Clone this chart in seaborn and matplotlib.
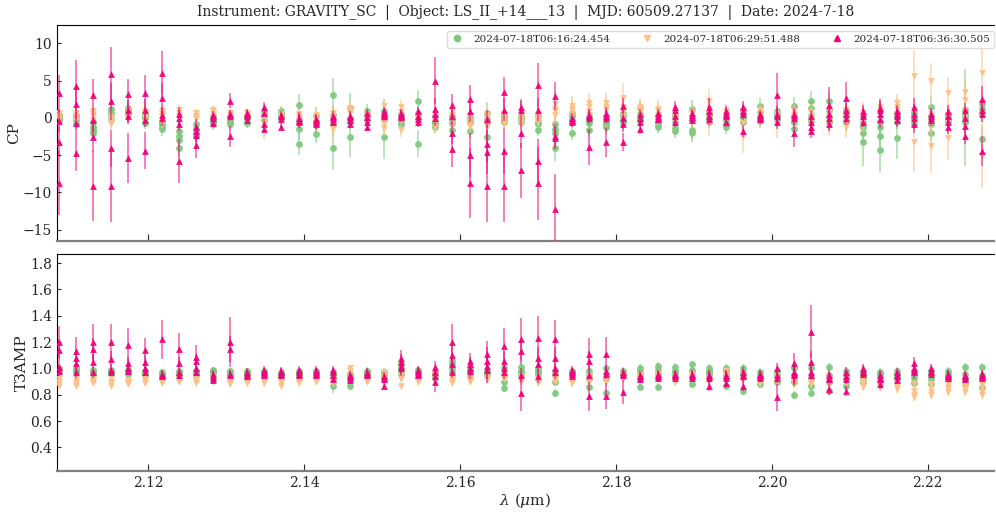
import numpy as np
import pandas as pd
import matplotlib
matplotlib.use("Agg")
import matplotlib.pyplot as plt
from matplotlib.lines import Line2D
import seaborn as sns

# ---------------- data ----------------
wavelength = [2.10859, 2.11078, 2.11298, 2.11517, 2.11736, 2.11956, 2.12175, 2.12394, 2.12613, 2.12833,
              2.13052, 2.13271, 2.13491, 2.13710, 2.13929, 2.14149, 2.14368, 2.14587, 2.14806, 2.15026,
              2.15245, 2.15464, 2.15684, 2.15903, 2.16122, 2.16342, 2.16561, 2.16780, 2.17000, 2.17219,
              2.17438, 2.17657, 2.17877, 2.18096, 2.18315, 2.18535, 2.18754, 2.18973, 2.19193, 2.19412,
              2.19631, 2.19850, 2.20070, 2.20289, 2.20508, 2.20728, 2.20947, 2.21166, 2.21386, 2.21605,
              2.21824, 2.22044, 2.22263, 2.22482, 2.22701]

obs_labels = ["2024-07-18T06:16:24.454", "2024-07-18T06:29:51.488", "2024-07-18T06:36:30.505"]

# closure phases (4 triangles per channel) and their errors
cp_green = [(0.2, -0.3, 0.0, 0.4), (0.4, -0.8, 0.2, -0.3), (-1.2, -1.6, -2.0, -0.5), (1.2, 0.5, -0.1, 0.8),
            (1.3, 0.9, 0.5, 1.1), (-0.7, 0.3, 0.0, 0.5), (-1.2, -1.5, -0.6, -0.9), (-1.8, -3.0, -4.0, -2.4),
            (-0.9, -2.1, -2.5, -1.5), (-0.9, -0.3, 0.2, -0.5), (-0.9, -0.4, 0.1, -0.6), (-0.7, -0.2, 0.1, 0.3),
            (0.6, 0.2, -0.3, 0.9), (0.85, 0.2, -0.2, 0.5), (1.7, -1.5, -3.5, -0.3), (-2.2, -0.4, 0.2, -1.0),
            (3.1, -4.0, 0.4, -0.8), (1.3, -2.6, 0.0, -0.5), (0.6, 0.2, -0.3, 0.9), (0.9, -2.6, -0.3, 0.2),
            (-0.05, -0.8, 0.5, -0.4), (2.2, -3.5, -0.2, 0.6), (-1.2, -0.6, 0.3, -0.9), (-0.7, -1.6, -0.3, 0.2),
            (-0.6, -1.8, -0.3, 0.1), (0.6, -2.6, -0.6, -0.2), (-0.6, 0.0, -0.3, 0.4), (-0.2, 0.3, -0.5, 0.1),
            (-1.6, -0.5, 0.2, -0.9), (-0.9, -2.05, -4.1, -1.5), (0.6, -2.0, -0.3, 0.2), (-0.7, -1.6, 0.2, -0.3),
            (-1.3, -0.6, 0.1, -0.9), (0.6, -0.7, 0.2, -0.3), (1.3, 0.0, 0.5, -0.4), (-1.25, -0.5, 0.2, -0.8),
            (-1.4, -1.8, -0.5, 0.3), (1.2, -1.6, -2.05, -0.3), (-0.5, 0.3, -0.2, 0.6), (-1.25, -0.3, 0.3, -0.8),
            (1.1, 0.0, 0.5, -0.5), (1.6, 0.0, 0.8, -0.4), (0.85, 0.2, -0.3, 0.5), (1.6, -1.5, 0.3, -0.5),
            (2.2, 1.3, 0.3, -0.4), (2.3, 0.1, 1.0, -0.5), (1.1, 0.3, -0.6, 0.7), (-1.2, -2.1, -3.3, -0.5),
            (-2.4, -4.3, -0.6, -1.2), (0.6, -2.7, -0.5, 0.1), (-0.8, 0.3, -0.2, 0.6), (1.4, -0.9, -2.1, 0.2),
            (0.0, -0.5, 0.4, -0.2), (0.0, 1.0, -0.6, 0.4), (1.9, 1.2, -2.8, 0.5)]
cp_green_err = [0.8, 0.9, 0.9, 0.9, 0.8, 0.8, 0.9, 1.2, 1.0, 0.8, 0.8, 0.7, 0.8, 0.7, (1.5, 1.5, 1.5, 1.0),
                1.2, (2.2, 3.0, 1.2, 1.2), (2.0, 2.7, 1.0, 1.0), 0.9, (1.5, 2.9, 1.0, 1.0), 1.0,
                (1.5, 1.8, 1.0, 1.0), 0.9, 0.9, 0.9, (1.5, 1.8, 1.0, 1.0), 0.9, 0.8, 0.9, (1.2, 1.2, 1.7, 1.0),
                1.0, 1.0, 0.9, 0.9, 0.9, 0.8, 0.9, 1.2, 0.9, 0.9, 0.9, 1.0, 0.9, 1.2, 1.4, 1.3, 1.0,
                (1.2, 1.5, 3.2, 1.0), (1.5, 3.0, 1.0, 1.0), (1.5, 2.8, 1.0, 1.0), 1.0, (1.5, 1.5, 1.5, 1.0),
                1.0, (6.5, 1.5, 1.5, 1.0), (1.5, 1.2, 1.5, 1.0)]

cp_orange = [(0.6, 0.3, 0.0, -0.2), (0.3, 0.0, -0.3, 0.6), (0.85, -0.36, 0.2, 0.5), (-0.2, -0.9, 0.2, -0.5),
             (0.85, -0.2, 0.3, 0.5), (0.6, 0.2, 0.9, 0.0), (0.85, -0.7, 0.2, 0.5), (1.1, 0.1, 0.6, 0.3),
             (0.3, -0.2, 0.6, 0.0), (0.85, 0.3, 0.5, 1.1), (0.4, 0.0, 0.7, 0.2), (0.1, 0.4, -0.2, 0.6),
             (0.0, -1.2, 0.4, -0.6), (0.0, 0.3, -0.3, 0.5), (0.2, -0.3, 0.5, 0.0), (0.1, -1.0, 0.4, -0.3),
             (0.7, -1.5, 0.2, -0.4), (1.3, 0.6, -0.2, 0.9), (0.2, -0.1, 0.5, 0.4), (1.6, -0.7, -1.4, 0.3),
             (1.4, 0.3, -1.6, 0.8), (-0.5, 0.0, 0.4, -0.2), (0.5, -1.25, 0.1, -0.4), (0.85, -0.2, -0.8, 0.4),
             (-1.2, -0.4, 0.2, -0.8), (0.0, -1.2, -0.5, 0.4), (0.1, -0.9, -0.4, 0.5), (-0.2, -0.9, 0.3, -0.5),
             (0.1, -0.5, 0.4, -0.2), (1.9, 0.4, 0.9, 1.2), (1.6, 0.85, 1.2, 0.4), (2.05, 0.85, 1.4, 0.4),
             (2.05, 1.1, 0.0, 1.5), (2.6, 1.5, 0.9, 0.3), (1.5, 0.9, 0.3, 1.2), (0.85, 0.4, 1.2, 0.1),
             (0.1, 0.6, 1.0, -0.3), (0.0, 0.5, -0.4, 0.8), (2.2, -0.9, 0.5, 1.2), (0.4, 0.9, -0.2, 0.6),
             (-2.5, 0.6, 1.0, -0.5), (0.6, 0.2, -0.2, 1.0), (0.2, -0.9, 0.5, 0.0), (0.85, -0.3, 0.4, 0.1),
             (0.3, -0.5, 0.8, -0.1), (0.85, -1.2, 0.3, -0.4), (1.0, -1.2, 0.4, -0.4), (0.0, 0.6, -0.5, 0.3),
             (1.5, 0.5, 0.0, 1.0), (2.05, 1.0, 0.4, 1.5), (5.6, -3.3, 1.0, 0.0), (4.9, -3.75, 0.5, -0.5),
             (3.3, -2.7, 0.4, -0.5), (3.5, 2.4, 0.0, 1.0), (6.0, 0.4, -5.1, 2.0)]
cp_orange_err = [0.6, 0.6, 0.7, 0.7, 0.7, 0.7, 0.7, 0.7, 0.6, 0.6, 0.6, 0.6, (0.8, 1.6, 0.8, 0.8), 0.6,
                 0.7, 0.8, 0.9, 0.9, 0.7, 1.0, 1.0, 0.8, 0.9, 0.9, 0.9, 0.9, 0.9, 0.8, 0.9, 1.5, 1.3,
                 1.3, 1.3, (2.0, 1.3, 1.3, 1.3), 1.2, 1.2, 1.0, 1.0, (1.6, 1.6, 1.0, 1.0), 1.0,
                 (2.2, 1.0, 1.0, 1.0), 1.0, (1.0, 1.8, 1.0, 1.0), 1.0, 1.0, 1.2, 1.5, 1.5, 1.2, 1.2,
                 (3.5, 4.0, 1.5, 1.5), (2.4, 3.7, 1.5, 1.5), (2.2, 3.0, 1.5, 1.5), (1.6, 1.6, 1.5, 1.5),
                 (3.3, 2.5, 4.3, 2.0)]

cp_magenta = [(3.3, -0.4, -3.2, -8.7), (4.3, 1.9, -0.7, -4.7), (3.1, -0.3, -2.6, -9.1), (5.85, 2.2, -4.1, -9.1),
              (3.2, 1.0, -5.4, 0.2), (3.3, 1.0, -0.3, -4.4), (6.0, 2.7, -0.05, 0.4), (0.5, -0.8, -5.8, 0.0),
              (-1.2, -2.3, -3.6, -1.8), (0.4, 0.0, -0.7, 0.2), (2.3, -2.5, 0.2, 0.5), (0.7, 0.3, -0.3, 0.5),
              (1.5, 0.7, -0.8, -1.5), (0.4, -0.1, -1.2, 0.2), (-0.3, -0.6, 0.0, -0.4), (-0.2, -0.5, -0.9, -0.3),
              (0.1, -0.5, 0.3, -0.2), (0.1, -0.8, -0.3, 0.3), (0.6, 0.1, -0.5, -1.2), (0.85, 0.4, 0.6, 0.2),
              (0.4, 0.1, 0.6, 0.2), (0.85, 0.3, -0.2, -0.6), (5.0, 1.2, -0.05, 0.5), (1.7, 0.2, -2.0, -4.2),
              (2.5, 0.95, -5.0, -8.7), (-0.2, -3.5, -4.6, -9.2), (3.4, 1.1, -4.5, -9.1), (1.5, 1.1, -2.1, -7.05),
              (4.4, 1.1, -5.8, -8.8), (2.95, -2.4, -2.7, -12.2), (-0.3, -0.6, 0.0, -0.4), (0.4, 0.0, -3.9, 0.2),
              (0.6, -3.3, 0.2, 0.0), (1.6, 0.0, -0.9, -3.3), (0.5, -0.5, -1.5, 0.0), (0.6, -0.2, 0.2, 0.0),
              (1.5, 1.0, -0.5, 0.3), (0.4, 0.1, -0.3, 0.6), (0.85, -0.2, 0.3, 1.5), (0.85, -0.5, 0.2, 0.5),
              (1.4, -1.8, 0.5, 0.9), (0.2, -0.2, 0.5, 0.0), (3.1, -0.5, 0.5, 0.2), (-2.1, 0.3, 0.0, 0.5),
              (-1.2, -1.8, -0.5, 0.2), (1.7, -0.8, 0.5, 0.0), (2.6, 0.5, 1.0, 0.0), (0.85, -0.5, 0.3, 0.5),
              (1.3, 1.1, -0.2, 0.5), (0.85, -0.3, 0.3, 0.5), (1.4, -0.8, 0.5, 0.0), (0.2, -0.3, 0.5, 0.0),
              (0.85, -1.25, 0.3, -0.5), (1.0, -1.1, -2.5, 0.0), (2.5, -4.5, 0.5, 1.0)]
cp_magenta_err = [(2.5, 1.5, 2.0, 4.3), (3.4, 2.0, 1.5, 2.5), (2.1, 1.5, 2.0, 4.7), (3.6, 2.5, 2.5, 4.9),
                  (2.0, 1.5, 3.3, 1.0), (2.5, 1.5, 1.0, 2.5), (3.0, 2.0, 1.0, 1.0), (1.0, 1.0, 2.9, 1.0),
                  (1.0, 1.0, 1.8, 1.0), 0.5, (1.0, 1.4, 0.6, 0.6), 0.5, 0.6, 0.5, 0.8, 0.7, 0.6, 0.6, 0.6,
                  0.6, 0.6, 0.6, (3.1, 1.5, 1.0, 1.0), (1.5, 1.0, 1.5, 2.4), (1.9, 1.5, 3.0, 4.7),
                  (1.2, 2.5, 3.0, 4.8), (2.1, 1.5, 3.0, 4.9), (1.0, 1.2, 2.0, 3.7), (3.0, 1.5, 3.0, 4.9),
                  (1.9, 1.5, 1.5, 4.6), 0.6, (0.8, 0.8, 2.4, 0.8), (0.8, 1.9, 0.8, 0.8), (1.0, 1.0, 1.0, 1.2),
                  0.7, 0.6, 0.7, 0.6, (0.8, 0.8, 0.8, 1.2), 0.7, 0.8, 0.6, (2.9, 1.0, 1.0, 1.0),
                  (1.8, 0.8, 0.8, 0.8), 0.9, (2.4, 1.0, 1.0, 1.0), (2.2, 1.0, 1.0, 1.0), 0.8, 1.2, 0.9,
                  1.3, 0.8, 0.9, 1.0, (1.8, 2.0, 1.0, 1.0)]

# closure amplitudes (T3AMP) and their errors
t3_green = [(0.99, 0.97, 1.0, 0.98), (1.0, 0.98, 0.97, 0.99), (0.97, 0.98, 0.96, 0.99), (0.97, 0.99, 0.96, 0.98),
            (0.98, 0.96, 0.99, 0.97), (0.96, 0.98, 0.95, 0.97), (0.96, 0.95, 0.97, 0.94), (0.96, 0.98, 0.95, 0.97),
            (0.97, 0.95, 0.98, 0.96), (0.99, 0.97, 0.96, 0.98), (0.97, 0.96, 0.98, 0.95), (0.97, 0.96, 0.95, 0.98),
            (0.96, 0.97, 0.95, 0.98), (0.96, 0.95, 0.97, 0.94), (0.97, 0.96, 0.95, 0.98), (0.96, 0.97, 0.95, 0.98),
            (0.87, 0.95, 0.97, 0.93), (0.87, 0.93, 0.96, 0.95), (0.97, 0.95, 0.96, 0.98), (0.95, 0.96, 0.93, 0.97),
            (1.04, 0.99, 0.96, 1.01), (0.99, 0.97, 0.95, 0.98), (0.96, 0.94, 0.97, 0.93), (1.06, 1.0, 0.97, 1.03),
            (1.0, 0.94, 0.97, 0.98), (0.98, 0.95, 0.96, 0.97), (1.0, 0.9, 0.85, 0.95), (1.01, 0.95, 0.98, 0.97),
            (1.0, 0.96, 0.98, 0.97), (0.81, 0.95, 0.98, 0.9), (0.98, 0.96, 0.97, 0.95), (0.98, 0.86, 0.95, 0.92),
            (1.0, 0.81, 0.95, 0.92), (0.98, 0.95, 0.97, 0.96), (1.0, 0.86, 0.95, 0.98), (1.02, 0.86, 0.96, 0.99),
            (1.01, 0.95, 0.98, 0.97), (1.03, 0.88, 0.97, 0.99), (1.0, 0.96, 0.98, 0.97), (1.0, 0.87, 0.95, 0.98),
            (1.0, 0.83, 0.95, 0.97), (0.88, 0.95, 0.97, 0.93), (0.9, 0.96, 0.98, 0.94), (1.0, 0.8, 0.95, 0.9),
            (1.0, 0.87, 0.81, 0.93), (1.01, 0.83, 0.95, 0.9), (0.87, 0.95, 0.98, 0.92), (0.9, 0.95, 0.97, 0.93),
            (0.95, 0.97, 0.9, 0.96), (0.96, 0.94, 0.98, 0.92), (0.89, 0.95, 0.98, 0.93), (0.88, 0.95, 0.98, 0.92),
            (0.94, 0.96, 0.98, 0.92), (1.01, 0.92, 0.96, 0.88), (1.01, 0.86, 0.95, 0.91)]
t3_green_err = [0.02] * 16 + [(0.06, 0.03, 0.03, 0.03)] + [0.03] * 38

t3_orange = [(0.92, 0.89, 0.9, 0.87), (0.92, 0.88, 0.9, 0.87), (0.92, 0.9, 0.89, 0.91), (0.93, 0.87, 0.9, 0.89),
             (0.91, 0.89, 0.9, 0.88), (0.91, 0.92, 0.9, 0.89), (0.91, 0.9, 0.92, 0.89), (0.94, 0.92, 0.9, 0.91),
             (0.91, 0.89, 0.9, 0.92), (0.94, 0.92, 0.9, 0.93), (0.89, 0.91, 0.88, 0.9), (0.91, 0.9, 0.92, 0.89),
             (0.91, 0.9, 0.89, 0.92), (0.87, 0.9, 0.89, 0.91), (0.91, 0.9, 0.92, 0.89), (0.93, 0.91, 0.9, 0.92),
             (0.9, 0.92, 0.89, 0.91), (1.0, 0.96, 0.92, 0.98), (0.91, 0.93, 0.9, 0.92), (0.97, 0.92, 0.94, 0.9),
             (0.99, 0.92, 0.87, 0.95), (0.91, 0.93, 0.9, 0.92), (0.95, 0.93, 0.91, 0.94), (0.9, 0.92, 0.89, 0.91),
             (0.91, 0.93, 0.9, 0.92), (0.94, 0.92, 0.93, 0.91), (0.95, 0.93, 0.92, 0.94), (0.92, 0.93, 0.9, 0.94),
             (0.9, 0.92, 0.89, 0.93), (0.94, 0.92, 0.9, 0.95), (0.9, 0.92, 0.91, 0.89), (0.94, 0.92, 0.9, 0.93),
             (0.94, 0.92, 0.93, 0.9), (0.95, 0.93, 0.94, 0.92), (0.95, 0.93, 0.92, 0.94), (0.96, 0.94, 0.93, 0.95),
             (0.91, 0.93, 0.92, 0.9), (0.96, 0.94, 0.93, 0.95), (0.91, 0.93, 0.9, 0.92), (0.98, 0.94, 0.92, 0.95),
             (0.95, 0.93, 0.92, 0.91), (0.9, 0.92, 0.89, 0.93), (0.94, 0.92, 0.9, 0.91), (0.89, 0.92, 0.9, 0.88),
             (0.94, 0.92, 0.88, 0.9), (0.9, 0.92, 0.88, 0.91), (0.92, 0.9, 0.89, 0.94), (0.86, 0.9, 0.88, 0.92),
             (0.86, 0.9, 0.88, 0.91), (0.84, 0.88, 0.9, 0.86), (0.78, 0.83, 0.88, 0.8), (0.8, 0.85, 0.88, 0.82),
             (0.84, 0.88, 0.86, 0.82), (0.84, 0.88, 0.86, 0.82), (0.8, 0.85, 0.88, 0.82)]
t3_orange_err = [0.02] * 30 + [0.03] * 25

t3_magenta = [(1.2, 1.14, 1.01, 0.98), (1.13, 1.08, 1.04, 0.97), (1.2, 1.15, 1.05, 0.97), (1.2, 1.07, 0.99, 0.97),
              (1.18, 1.04, 1.0, 0.98), (1.14, 1.05, 1.0, 0.97), (1.22, 0.95, 0.96, 0.94), (1.15, 1.04, 0.95, 0.97),
              (1.09, 1.06, 1.0, 0.97), (0.96, 0.91, 0.94, 0.93), (1.2, 1.15, 0.96, 0.95), (0.97, 0.94, 0.95, 0.96),
              (0.99, 0.95, 0.97, 0.96), (0.98, 0.95, 0.96, 0.97), (0.99, 0.95, 0.97, 0.96), (0.99, 0.96, 0.97, 0.95),
              (0.99, 0.95, 0.92, 0.97), (0.94, 0.91, 0.93, 0.95), (0.97, 0.95, 0.96, 0.96), (0.87, 0.92, 0.94, 0.93),
              (1.08, 1.05, 1.0, 1.02), (0.99, 0.95, 0.97, 0.96), (1.01, 0.97, 0.94, 0.9), (1.2, 1.1, 1.03, 0.97),
              (1.06, 1.03, 1.0, 0.98), (1.11, 1.06, 0.99, 1.02), (1.17, 1.06, 0.97, 1.0), (1.22, 1.13, 0.81, 0.95),
              (1.23, 1.08, 1.03, 0.94), (1.22, 1.08, 0.97, 1.0), (0.99, 0.94, 0.97, 0.96), (1.11, 1.06, 0.79, 0.95),
              (1.11, 0.79, 0.96, 0.98), (0.97, 0.82, 0.95, 0.96), (0.92, 0.94, 0.95, 0.93), (0.95, 0.94, 0.96, 0.93),
              (0.94, 0.95, 0.96, 0.93), (0.94, 0.95, 0.96, 0.93), (0.95, 0.87, 0.93, 0.94), (0.95, 0.89, 0.93, 0.94),
              (0.97, 0.87, 0.95, 0.94), (0.96, 0.94, 0.95, 0.93), (1.0, 0.78, 0.95, 0.93), (1.04, 0.97, 0.95, 0.96),
              (1.28, 1.05, 0.97, 0.95), (0.95, 0.84, 0.93, 0.92), (0.97, 0.83, 0.94, 0.92), (1.0, 0.96, 0.97, 0.98),
              (0.95, 0.88, 0.93, 0.92), (0.97, 0.91, 0.94, 0.95), (1.04, 0.99, 0.97, 1.0), (1.0, 0.97, 0.98, 0.96),
              (0.94, 0.95, 0.96, 0.93), (0.93, 0.94, 0.95, 0.92), (0.94, 0.96, 0.95, 0.93)]
t3_magenta_err = [(0.12, 0.08, 0.05, 0.04), (0.11, 0.06, 0.05, 0.04), (0.14, 0.08, 0.05, 0.04), (0.14, 0.06, 0.04, 0.03),
                  (0.13, 0.05, 0.04, 0.03), (0.09, 0.05, 0.03, 0.03), (0.15, 0.03, 0.03, 0.03), (0.12, 0.05, 0.03, 0.03),
                  (0.09, 0.05, 0.03, 0.03), 0.03, (0.19, 0.1, 0.03, 0.03), 0.03, 0.03, 0.03, 0.03, 0.03, 0.03,
                  0.03, 0.03, 0.03, 0.06, 0.03, (0.05, 0.04, 0.04, 0.08), (0.14, 0.08, 0.05, 0.04), 0.06, 0.1,
                  (0.14, 0.07, 0.05, 0.05), (0.16, 0.1, 0.13, 0.05), (0.17, 0.08, 0.06, 0.05), (0.15, 0.08, 0.05, 0.05),
                  0.03, (0.12, 0.07, 0.11, 0.04), (0.13, 0.1, 0.04, 0.04), (0.03, 0.09, 0.03, 0.03), 0.03, 0.03,
                  0.03, 0.03, 0.04, 0.04, 0.04, 0.03, (0.04, 0.1, 0.04, 0.04), 0.08, (0.2, 0.08, 0.05, 0.04),
                  0.04, 0.04, 0.03, 0.04, 0.03, 0.05, 0.03, 0.03, 0.03, 0.03]

colors = ["#7fc97f", "#fdc086", "#f0027f"]
markers = ["o", "v", "^"]


def to_long(vals, errs, label):
    rows = []
    for wl, v, e in zip(wavelength, vals, errs):
        ee = e if isinstance(e, tuple) else (e,) * len(v)
        for vi, ei in zip(v, ee):
            rows.append((wl, vi, ei, label))
    return pd.DataFrame(rows, columns=["wl", "value", "err", "obs"])


cp_df = pd.concat([to_long(cp_green, cp_green_err, obs_labels[0]),
                   to_long(cp_orange, cp_orange_err, obs_labels[1]),
                   to_long(cp_magenta, cp_magenta_err, obs_labels[2])], ignore_index=True)
t3_df = pd.concat([to_long(t3_green, t3_green_err, obs_labels[0]),
                   to_long(t3_orange, t3_orange_err, obs_labels[1]),
                   to_long(t3_magenta, t3_magenta_err, obs_labels[2])], ignore_index=True)

# ---------------- plot ----------------
sns.set_style("ticks")
plt.rcParams["font.family"] = ["DejaVu Serif"]
plt.rcParams["mathtext.fontset"] = "dejavuserif"

fig, (ax1, ax2) = plt.subplots(2, 1, figsize=(9.96, 5.13), dpi=100, sharex=True)
fig.subplots_adjust(left=0.0572, right=0.998, top=0.952, bottom=0.082, hspace=0.058)

for ax, df in ((ax1, cp_df), (ax2, t3_df)):
    for i, lab in enumerate(obs_labels):
        sub = df[df["obs"] == lab]
        ax.errorbar(sub["wl"], sub["value"], yerr=sub["err"], fmt="none",
                    ecolor=colors[i], elinewidth=1.1, alpha=0.65, zorder=1 + 2 * i)
        sns.scatterplot(data=sub, x="wl", y="value", color=colors[i], marker=markers[i],
                        s=24, linewidth=0, alpha=0.95, ax=ax, legend=False, zorder=2 + 2 * i)
    ax.set_xlabel("")
    ax.spines["right"].set_visible(False)
    ax.spines["bottom"].set_color("#808080")
    ax.spines["bottom"].set_linewidth(1.6)
    ax.spines["left"].set_color("black")
    ax.spines["top"].set_color("black")
    ax.tick_params(axis="x", direction="in", length=5, labelsize=10)
    ax.tick_params(axis="y", direction="in", length=3, labelsize=10)

ax1.set_xlim(2.1083, 2.2285)
ax1.set_ylim(-16.6, 12.5)
ax1.set_yticks([-15, -10, -5, 0, 5, 10])
ax1.set_ylabel("CP", fontsize=11, labelpad=1)
ax2.set_ylim(0.221, 1.869)
ax2.set_yticks([0.4, 0.6, 0.8, 1.0, 1.2, 1.4, 1.6, 1.8])
ax2.set_ylabel("T3AMP", fontsize=11, labelpad=1)
ax2.set_xticks([2.12, 2.14, 2.16, 2.18, 2.20, 2.22])
ax2.set_xticklabels(["2.12", "2.14", "2.16", "2.18", "2.20", "2.22"])
ax2.set_xlabel(r"$\lambda$ ($\mu$m)", fontsize=11, labelpad=1)
ax1.tick_params(axis="x", labelbottom=False)

ax1.set_title("Instrument: GRAVITY_SC  |  Object: LS_II_+14___13  |  MJD: 60509.27137  |  Date: 2024-7-18",
              fontsize=10)

handles = [Line2D([], [], ls="", marker=m, color=c, markersize=4.5) for m, c in zip(markers, colors)]
ax1.legend(handles, obs_labels, loc="upper right", bbox_to_anchor=(1.0, 1 - 6 / 217), borderaxespad=0,
           ncol=3, fontsize=7.5, handlelength=1.2, handletextpad=0.9, columnspacing=3.0,
           borderpad=0.4, framealpha=1, edgecolor="#dddddd")

fig.savefig("out.png", dpi=100)
